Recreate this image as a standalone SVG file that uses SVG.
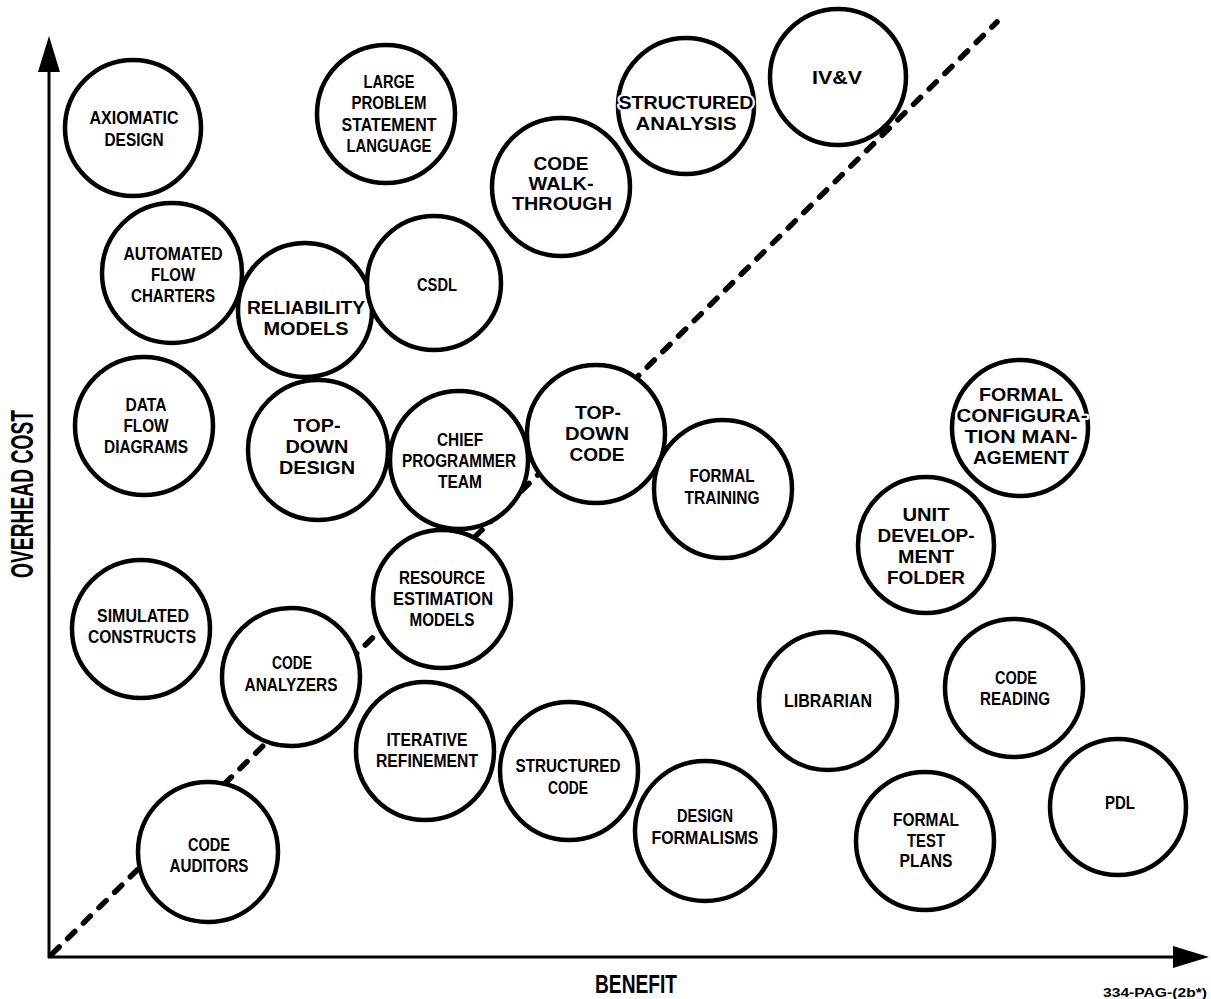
<svg xmlns="http://www.w3.org/2000/svg" width="1211" height="999" viewBox="0 0 1211 999">
<style>
.node circle{fill:#fff;stroke:#000;stroke-width:4.5}
.t{font-family:"Liberation Sans",Arial,sans-serif;font-weight:bold;font-size:18px;text-anchor:middle;fill:#000;stroke:#fff;stroke-width:4;paint-order:stroke;stroke-linejoin:round}
.ax{fill:none;stroke:#000;stroke-width:3}
.lbl{font-family:"Liberation Sans",Arial,sans-serif;font-weight:bold;text-anchor:middle;fill:#000}
.dash{fill:none;stroke:#000;stroke-width:5.5;stroke-dasharray:10 12;stroke-linecap:round}
</style>
<defs>
<marker id="arrow" markerUnits="userSpaceOnUse" viewBox="0 0 36 22" markerWidth="36" markerHeight="22" refX="0" refY="11" orient="auto">
<path d="M0,0 L36,11 L0,22 Z" fill="#000"/>
</marker>
</defs>
<rect width="1211" height="999" fill="#fff"/>
<g id="axes">
<line class="ax" x1="49" y1="958" x2="49" y2="72" marker-end="url(#arrow)"/>
<line class="ax" x1="48" y1="957" x2="1173" y2="957" marker-end="url(#arrow)"/>
<text class="lbl" font-size="31" transform="translate(33,494) rotate(-90)" x="0" y="0" textLength="168" lengthAdjust="spacingAndGlyphs">OVERHEAD COST</text>
<text class="lbl" font-size="25" x="636" y="993" textLength="82" lengthAdjust="spacingAndGlyphs">BENEFIT</text>
<text class="lbl" font-size="13" x="1155" y="997" textLength="104" lengthAdjust="spacingAndGlyphs">334-PAG-(2b*)</text>
</g>
<g id="connectors">
<line class="dash" x1="52" y1="954" x2="997" y2="22"/>
</g>
<g id="n-axiomatic-design" class="node">
<circle cx="133" cy="128" r="68"/>
<text class="t" x="134" y="124" textLength="89" lengthAdjust="spacingAndGlyphs">AXIOMATIC</text>
<text class="t" x="134" y="146" textLength="59" lengthAdjust="spacingAndGlyphs">DESIGN</text>
</g>
<g id="n-large-problem-statement-language" class="node">
<circle cx="386" cy="114" r="69"/>
<text class="t" x="389" y="88" textLength="51" lengthAdjust="spacingAndGlyphs">LARGE</text>
<text class="t" x="389" y="109" textLength="75" lengthAdjust="spacingAndGlyphs">PROBLEM</text>
<text class="t" x="389" y="131" textLength="95" lengthAdjust="spacingAndGlyphs">STATEMENT</text>
<text class="t" x="389" y="152" textLength="85" lengthAdjust="spacingAndGlyphs">LANGUAGE</text>
</g>
<g id="n-code-walkthrough" class="node">
<circle cx="561" cy="187" r="69"/>
<text class="t" x="561" y="170" textLength="55" lengthAdjust="spacingAndGlyphs">CODE</text>
<text class="t" x="561" y="190" textLength="65" lengthAdjust="spacingAndGlyphs">WALK-</text>
<text class="t" x="562" y="210" textLength="100" lengthAdjust="spacingAndGlyphs">THROUGH</text>
</g>
<g id="n-structured-analysis" class="node">
<circle cx="686" cy="106" r="68"/>
<text class="t" x="686" y="108.5" textLength="135" lengthAdjust="spacingAndGlyphs">STRUCTURED</text>
<text class="t" x="686" y="129.5" textLength="101" lengthAdjust="spacingAndGlyphs">ANALYSIS</text>
</g>
<g id="n-ivv" class="node">
<circle cx="838" cy="77" r="68"/>
<text class="t" x="837" y="84" textLength="50" lengthAdjust="spacingAndGlyphs">IV&amp;V</text>
</g>
<g id="n-automated-flow-charters" class="node">
<circle cx="172" cy="273" r="70"/>
<text class="t" x="173" y="260" textLength="99" lengthAdjust="spacingAndGlyphs">AUTOMATED</text>
<text class="t" x="173" y="281" textLength="44" lengthAdjust="spacingAndGlyphs">FLOW</text>
<text class="t" x="173" y="302" textLength="84" lengthAdjust="spacingAndGlyphs">CHARTERS</text>
</g>
<g id="n-reliability-models" class="node">
<circle cx="305" cy="310" r="67"/>
<text class="t" x="306" y="314" textLength="118" lengthAdjust="spacingAndGlyphs">RELIABILITY</text>
<text class="t" x="306" y="335" textLength="85" lengthAdjust="spacingAndGlyphs">MODELS</text>
</g>
<g id="n-csdl" class="node">
<circle cx="434" cy="283" r="67"/>
<text class="t" x="437" y="291" textLength="40" lengthAdjust="spacingAndGlyphs">CSDL</text>
</g>
<g id="n-data-flow-diagrams" class="node">
<circle cx="144" cy="426" r="69"/>
<text class="t" x="146" y="410.5" textLength="41" lengthAdjust="spacingAndGlyphs">DATA</text>
<text class="t" x="146" y="431.5" textLength="45" lengthAdjust="spacingAndGlyphs">FLOW</text>
<text class="t" x="146" y="452.5" textLength="84" lengthAdjust="spacingAndGlyphs">DIAGRAMS</text>
</g>
<g id="n-top-down-design" class="node">
<circle cx="318" cy="450" r="70"/>
<text class="t" x="317" y="432" textLength="47" lengthAdjust="spacingAndGlyphs">TOP-</text>
<text class="t" x="317" y="453" textLength="63" lengthAdjust="spacingAndGlyphs">DOWN</text>
<text class="t" x="317" y="474" textLength="76" lengthAdjust="spacingAndGlyphs">DESIGN</text>
</g>
<g id="n-chief-programmer-team" class="node">
<circle cx="459" cy="460" r="69"/>
<text class="t" x="460" y="445.5" textLength="46" lengthAdjust="spacingAndGlyphs">CHIEF</text>
<text class="t" x="459" y="466.5" textLength="114" lengthAdjust="spacingAndGlyphs">PROGRAMMER</text>
<text class="t" x="460" y="487.5" textLength="44" lengthAdjust="spacingAndGlyphs">TEAM</text>
</g>
<g id="n-top-down-code" class="node">
<circle cx="596" cy="434" r="69"/>
<text class="t" x="598" y="419" textLength="46" lengthAdjust="spacingAndGlyphs">TOP-</text>
<text class="t" x="597" y="440" textLength="64" lengthAdjust="spacingAndGlyphs">DOWN</text>
<text class="t" x="597" y="461" textLength="55" lengthAdjust="spacingAndGlyphs">CODE</text>
</g>
<g id="n-formal-training" class="node">
<circle cx="723" cy="489" r="69"/>
<text class="t" x="722" y="482" textLength="65" lengthAdjust="spacingAndGlyphs">FORMAL</text>
<text class="t" x="722" y="504" textLength="75" lengthAdjust="spacingAndGlyphs">TRAINING</text>
</g>
<g id="n-resource-estimation-models" class="node">
<circle cx="442" cy="599" r="69"/>
<text class="t" x="442" y="583.5" textLength="86" lengthAdjust="spacingAndGlyphs">RESOURCE</text>
<text class="t" x="443" y="604.5" textLength="100" lengthAdjust="spacingAndGlyphs">ESTIMATION</text>
<text class="t" x="442" y="625.5" textLength="65" lengthAdjust="spacingAndGlyphs">MODELS</text>
</g>
<g id="n-simulated-constructs" class="node">
<circle cx="141" cy="629" r="69"/>
<text class="t" x="143" y="622" textLength="92" lengthAdjust="spacingAndGlyphs">SIMULATED</text>
<text class="t" x="142" y="643" textLength="108" lengthAdjust="spacingAndGlyphs">CONSTRUCTS</text>
</g>
<g id="n-code-analyzers" class="node">
<circle cx="291" cy="677" r="69"/>
<text class="t" x="292" y="669" textLength="40" lengthAdjust="spacingAndGlyphs">CODE</text>
<text class="t" x="291" y="691" textLength="93" lengthAdjust="spacingAndGlyphs">ANALYZERS</text>
</g>
<g id="n-iterative-refinement" class="node">
<circle cx="425" cy="751" r="69"/>
<text class="t" x="427" y="745.5" textLength="81" lengthAdjust="spacingAndGlyphs">ITERATIVE</text>
<text class="t" x="427" y="766.5" textLength="102" lengthAdjust="spacingAndGlyphs">REFINEMENT</text>
</g>
<g id="n-structured-code" class="node">
<circle cx="569" cy="771" r="69"/>
<text class="t" x="568" y="772" textLength="105" lengthAdjust="spacingAndGlyphs">STRUCTURED</text>
<text class="t" x="568" y="794" textLength="40" lengthAdjust="spacingAndGlyphs">CODE</text>
</g>
<g id="n-design-formalisms" class="node">
<circle cx="705" cy="831" r="70"/>
<text class="t" x="705" y="822" textLength="56" lengthAdjust="spacingAndGlyphs">DESIGN</text>
<text class="t" x="705" y="844" textLength="107" lengthAdjust="spacingAndGlyphs">FORMALISMS</text>
</g>
<g id="n-code-auditors" class="node">
<circle cx="208" cy="852" r="70"/>
<text class="t" x="209" y="850.5" textLength="42" lengthAdjust="spacingAndGlyphs">CODE</text>
<text class="t" x="209" y="871.5" textLength="79" lengthAdjust="spacingAndGlyphs">AUDITORS</text>
</g>
<g id="n-librarian" class="node">
<circle cx="828" cy="701" r="69"/>
<text class="t" x="828" y="707" textLength="88" lengthAdjust="spacingAndGlyphs">LIBRARIAN</text>
</g>
<g id="n-code-reading" class="node">
<circle cx="1014" cy="688" r="69"/>
<text class="t" x="1016" y="683.5" textLength="42" lengthAdjust="spacingAndGlyphs">CODE</text>
<text class="t" x="1015" y="704.5" textLength="70" lengthAdjust="spacingAndGlyphs">READING</text>
</g>
<g id="n-pdl" class="node">
<circle cx="1118" cy="807" r="68"/>
<text class="t" x="1120" y="809" textLength="30" lengthAdjust="spacingAndGlyphs">PDL</text>
</g>
<g id="n-formal-test-plans" class="node">
<circle cx="925" cy="841" r="69"/>
<text class="t" x="926" y="826" textLength="66" lengthAdjust="spacingAndGlyphs">FORMAL</text>
<text class="t" x="926" y="846.5" textLength="38" lengthAdjust="spacingAndGlyphs">TEST</text>
<text class="t" x="926" y="867" textLength="53" lengthAdjust="spacingAndGlyphs">PLANS</text>
</g>
<g id="n-unit-development-folder" class="node">
<circle cx="926" cy="545" r="68"/>
<text class="t" x="926" y="521" textLength="47" lengthAdjust="spacingAndGlyphs">UNIT</text>
<text class="t" x="926" y="542" textLength="97" lengthAdjust="spacingAndGlyphs">DEVELOP-</text>
<text class="t" x="926" y="563" textLength="56" lengthAdjust="spacingAndGlyphs">MENT</text>
<text class="t" x="926" y="584" textLength="78" lengthAdjust="spacingAndGlyphs">FOLDER</text>
</g>
<g id="n-formal-configuration-management" class="node">
<circle cx="1020" cy="428" r="68"/>
<text class="t" x="1021" y="401" textLength="84" lengthAdjust="spacingAndGlyphs">FORMAL</text>
<text class="t" x="1022" y="422" textLength="131" lengthAdjust="spacingAndGlyphs">CONFIGURA-</text>
<text class="t" x="1021" y="443" textLength="113" lengthAdjust="spacingAndGlyphs">TION MAN-</text>
<text class="t" x="1021" y="464" textLength="96" lengthAdjust="spacingAndGlyphs">AGEMENT</text>
</g>
</svg>
